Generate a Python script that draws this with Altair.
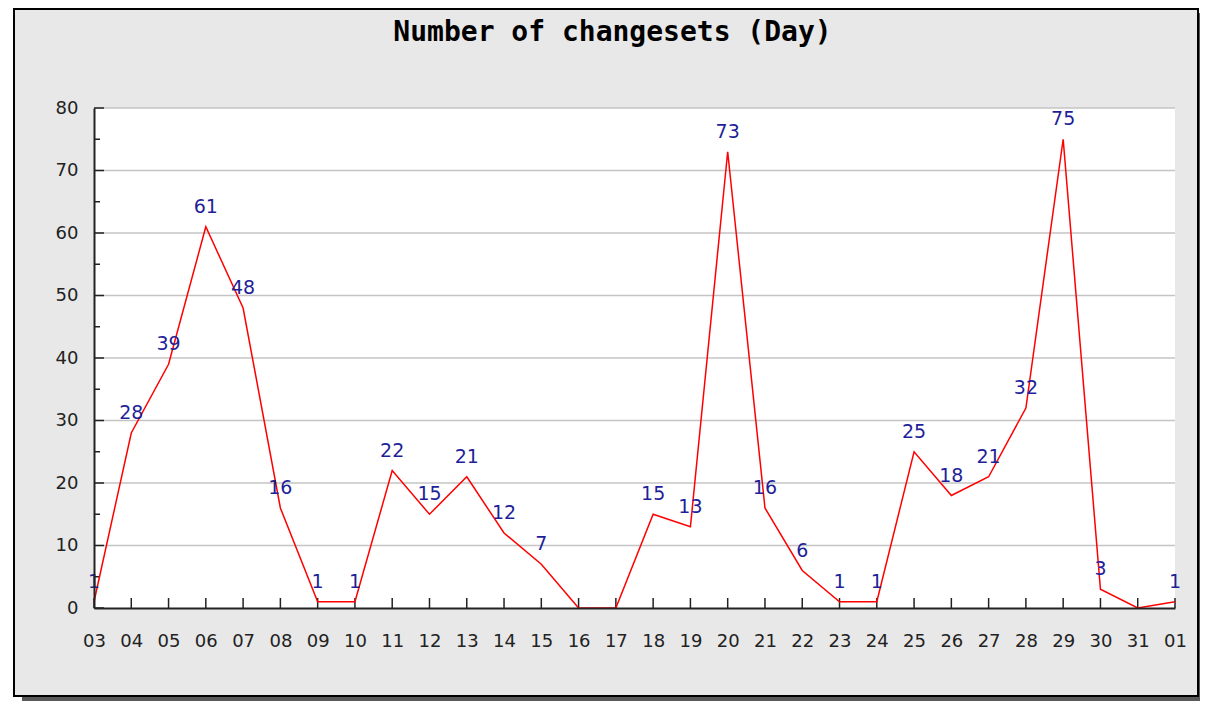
import altair as alt
import pandas as pd

TITLE = "Number of changesets (Day)"
DAYS = ["03", "04", "05", "06", "07", "08", "09", "10", "11", "12",
        "13", "14", "15", "16", "17", "18", "19", "20", "21", "22",
        "23", "24", "25", "26", "27", "28", "29", "30", "31", "01"]
COUNTS = [1, 28, 39, 61, 48, 16, 1, 1, 22, 15,
          21, 12, 7, 0, 0, 15, 13, 73, 16, 6,
          1, 1, 25, 18, 21, 32, 75, 3, 0, 1]
Y_TICKS = [0, 10, 20, 30, 40, 50, 60, 70, 80]
Y_MINOR = [5, 15, 25, 35, 45, 55, 65, 75]

W, H = 1081, 500

df = pd.DataFrame({"day": DAYS, "count": COUNTS})
ticks_df = pd.DataFrame({"v": Y_TICKS})
minor_df = pd.DataFrame({"v": Y_MINOR})
one = pd.DataFrame({"t": [TITLE]})

xscale = alt.Scale(type="point", padding=0, domain=DAYS)
yscale = alt.Scale(domain=[0, 80], nice=False, zero=True)

X_AXIS = alt.Axis(title=None, labelAngle=0, ticks=False, grid=False,
                  domainColor="#222222", domainWidth=2,
                  labelFont="DejaVu Sans", labelFontSize=18,
                  labelColor="#222222", labelPadding=24, zindex=1)
Y_AXIS = alt.Axis(title=None, values=Y_TICKS, ticks=False, grid=False,
                  domainColor="#222222", domainWidth=2,
                  labelFont="DejaVu Sans", labelFontSize=18,
                  labelColor="#222222", labelPadding=16, zindex=1)

shadow = alt.Chart(one).mark_rect(fill="#5a5a5a").encode(
    x=alt.value(-72), x2=alt.value(1112), y=alt.value(-95), y2=alt.value(593))
frame = alt.Chart(one).mark_rect(fill="#e8e8e8", stroke="#000000", strokeWidth=2).encode(
    x=alt.value(-80), x2=alt.value(1104), y=alt.value(-99), y2=alt.value(588))
plotbg = alt.Chart(one).mark_rect(fill="#ffffff").encode(
    x=alt.value(0), x2=alt.value(W), y=alt.value(0), y2=alt.value(H))

grid = alt.Chart(ticks_df).transform_filter("datum.v > 0").mark_rule(
    color="#c4c4c4", strokeWidth=1.5).encode(
    y=alt.Y("v:Q", scale=yscale, axis=Y_AXIS), x=alt.value(0), x2=alt.value(W))

ytick = alt.Chart(ticks_df).mark_rule(color="#222222", strokeWidth=1.5).encode(
    y=alt.Y("v:Q", scale=yscale, axis=Y_AXIS), x=alt.value(0), x2=alt.value(10))
yminor = alt.Chart(minor_df).mark_rule(color="#222222", strokeWidth=1.5).encode(
    y=alt.Y("v:Q", scale=yscale, axis=Y_AXIS), x=alt.value(0), x2=alt.value(6))

xtick = alt.Chart(df).mark_rule(color="#222222", strokeWidth=1.5).encode(
    x=alt.X("day:O", scale=xscale, sort=DAYS, axis=X_AXIS),
    y=alt.value(H - 10), y2=alt.value(H))

line = alt.Chart(df).mark_line(color="#ff0000", strokeWidth=1.5).encode(
    x=alt.X("day:O", scale=xscale, sort=DAYS, axis=X_AXIS),
    y=alt.Y("count:Q", scale=yscale, axis=Y_AXIS),
)

labels = alt.Chart(df).transform_filter("datum.count > 0").mark_text(
    font="DejaVu Sans", fontSize=19, color="#1f1f99", baseline="middle",
    align="center", dy=-20).encode(
    x=alt.X("day:O", scale=xscale, sort=DAYS, axis=X_AXIS),
    y=alt.Y("count:Q", scale=yscale, axis=Y_AXIS),
    text="count:Q")

title = alt.Chart(one).mark_text(
    font="DejaVu Sans Mono", fontSize=28, fontWeight="bold", color="#000000",
    baseline="middle", align="center").encode(
    x=alt.value(518.5), y=alt.value(-75), text="t:N")

chart = alt.layer(shadow, frame, plotbg, grid, ytick, yminor, xtick, line, labels, title).properties(
    width=W, height=H,
    autosize=alt.AutoSizeParams(type="none"),
    padding={"left": 86, "top": 100, "right": 25, "bottom": 93},
    background="#ffffff",
).configure_view(strokeWidth=0)

chart.save("out.html", embed_options={"renderer": "svg", "actions": False})
